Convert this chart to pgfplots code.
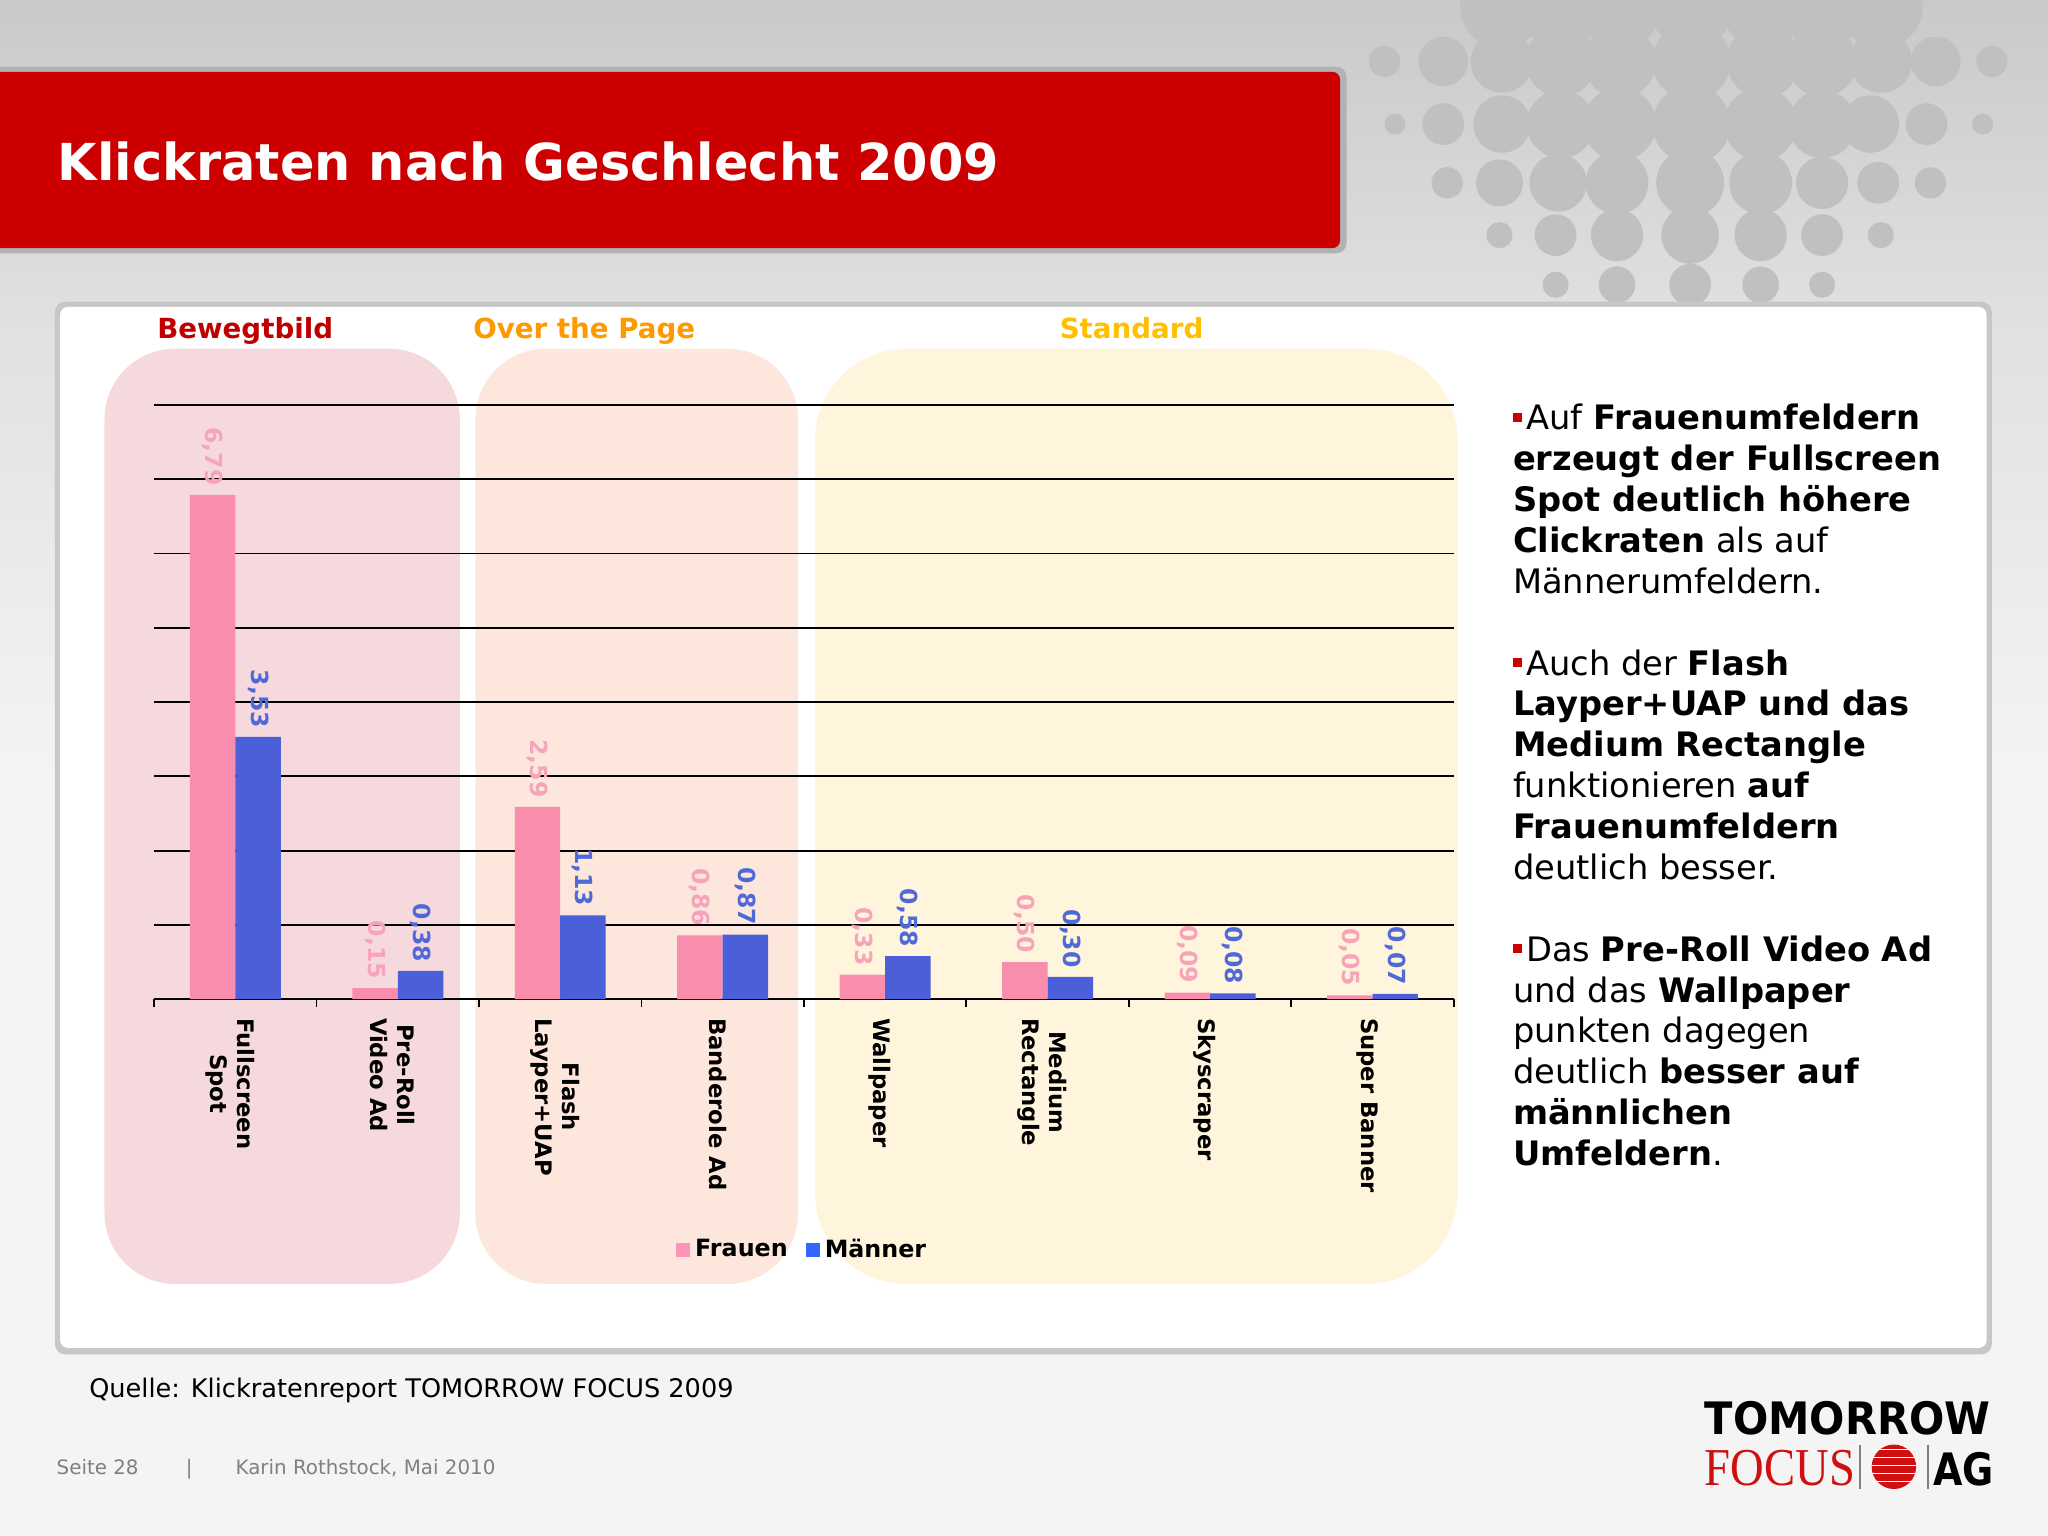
\documentclass[border=0pt]{standalone}
\usepackage{fontspec}
\setmainfont{DejaVu Sans}
\newfontfamily\seriffont{Liberation Serif}
\usepackage{pgfplots}
\usepackage{pgfplotstable}
\pgfplotsset{compat=1.18}
\definecolor{bgtop}{HTML}{C9C9C9}
\definecolor{bgmid}{HTML}{E0E0E0}
\definecolor{bglow}{HTML}{F4F4F4}
\definecolor{dotc}{HTML}{C0C0C0}
\definecolor{bannerred}{HTML}{CC0000}
\definecolor{bewbg}{HTML}{F6D9DD}
\definecolor{otpbg}{HTML}{FDE6DC}
\definecolor{stdbg}{HTML}{FFF5DC}
\definecolor{bewred}{HTML}{C00000}
\definecolor{otpor}{HTML}{FF9900}
\definecolor{stdyel}{HTML}{FFC000}
\definecolor{pinkbar}{HTML}{F98DAE}
\definecolor{bluebar}{HTML}{4A5FD8}
\definecolor{pinklab}{HTML}{F7A3BA}
\definecolor{bluelab}{HTML}{4F69D9}
\definecolor{pinkleg}{HTML}{FF94B8}
\definecolor{blueleg}{HTML}{3366FF}
\definecolor{logored}{HTML}{D01010}
\definecolor{footgray}{HTML}{808080}
\newcommand{\bul}{{\color{bannerred}\raisebox{3pt}{\rule{3.5pt}{3.5pt}}}\hspace{1.5pt}}

\pgfplotstableread{
x f m
0 6.79 3.53
1 0.15 0.38
2 2.59 1.13
3 0.86 0.87
4 0.33 0.58
5 0.50 0.30
6 0.09 0.08
7 0.05 0.07
}\klickdata

\begin{document}
\begin{tikzpicture}
\begin{scope}[x=0.5pt,y=-0.5pt]
\useasboundingbox (0,0) rectangle (1568,1176);
\shade[top color=bgtop, bottom color=bgmid] (0,0) rectangle (1568,240);
\shade[top color=bgmid, bottom color=bglow] (0,240) rectangle (1568,600);
\fill[bglow] (0,600) rectangle (1568,1176);
% decorative dots
\foreach \x in {1150,1195,1240,1295,1350,1395,1440}{\fill[dotc] (\x,5) circle[radius=16pt];}
\foreach \x/\y/\r in {1060/47/12,1105/47/19,1150/47/24,1195/47/27,1240/47/28,1295/47/30,1350/47/28,1395/47/27,1440/47/24,1482/47/19,1525/47/12,
1068/95/8,1105/95/16,1150/95/22,1195/95/26,1240/95/28,1295/95/30,1348/95/28,1395/95/26,1432/95/22,1475/95/16,1518/95/8,
1108/140/12,1148/140/18,1193/140/22,1238/140/24,1294/140/26,1348/140/24,1395/140/20,1438/140/16,1478/140/12,
1148/180/10,1191/180/16,1238/180/20,1294/180/22,1348/180/20,1395/180/16,1440/180/10,
1191/218/10,1238/218/14,1294/218/16,1348/218/14,1395/218/10}
  {\fill[dotc] (\x,\y) circle[radius={\r*0.5pt}];}
% red banner
\fill[black!30, rounded corners=4pt] (-10,51) rectangle (1031,194);
\fill[bannerred, rounded corners=3pt] (-10,55) rectangle (1026,190);
\node[anchor=base west, inner sep=0pt, text=white, font=\bfseries\fontsize{19.5}{19.5}\selectfont] at (44,138) {Klickraten nach Geschlecht 2009};
% white panel
\fill[black!22, rounded corners=4pt] (42,231) rectangle (1525,1037);
\fill[white, rounded corners=3pt] (46,235) rectangle (1521,1032);
% group backgrounds
\fill[bewbg, rounded corners=27pt] (80,267) rectangle (352,983);
\fill[otpbg, rounded corners=27pt] (364,267) rectangle (611,983);
\fill[stdbg, rounded corners=35pt] (624,267) rectangle (1116,983);
\node[anchor=base west, inner sep=0pt, text=bewred, font=\bfseries\fontsize{10.6}{10.6}\selectfont] at (120,259) {Bewegtbild};
\node[anchor=base west, inner sep=0pt, text=otpor, font=\bfseries\fontsize{10.6}{10.6}\selectfont] at (362,259) {Over the Page};
\node[anchor=base west, inner sep=0pt, text=stdyel, font=\bfseries\fontsize{10.6}{10.6}\selectfont] at (811,259) {Standard};
% right text
\node[anchor=north west, inner sep=0pt, align=left, font=\fontsize{12.9}{15.65}\selectfont] at (1158,309) {%
\bul Auf \textbf{Frauenumfeldern}\\
\textbf{erzeugt der Fullscreen}\\
\textbf{Spot deutlich höhere}\\
\textbf{Clickraten} als auf\\
Männerumfeldern.\\[15.65pt]
\bul Auch der \textbf{Flash}\\
\textbf{Layper+UAP und das}\\
\textbf{Medium Rectangle}\\
funktionieren \textbf{auf}\\
\textbf{Frauenumfeldern}\\
deutlich besser.\\[15.65pt]
\bul Das \textbf{Pre-Roll Video Ad}\\
und das \textbf{Wallpaper}\\
punkten dagegen\\
deutlich \textbf{besser auf}\\
\textbf{männlichen}\\
\textbf{Umfeldern}.};
% source and footer
\node[anchor=base west, inner sep=0pt, font=\fontsize{9.8}{9.8}\selectfont] at (68,1070) {Quelle: Klickratenreport TOMORROW FOCUS 2009};
\node[anchor=base west, inner sep=0pt, text=footgray, font=\fontsize{7.6}{7.6}\selectfont] at (43,1129) {Seite 28};
\node[anchor=base west, inner sep=0pt, text=footgray, font=\fontsize{7.6}{7.6}\selectfont] at (142,1129) {|};
\node[anchor=base west, inner sep=0pt, text=footgray, font=\fontsize{7.6}{7.6}\selectfont] at (180,1129) {Karin Rothstock, Mai 2010};
% logo
\node[anchor=base west, inner sep=0pt, xscale=0.93, font=\bfseries\fontsize{17.1}{17.1}\selectfont] at (1305,1098) {TOMORROW};
\node[anchor=base west, inner sep=0pt, xscale=0.875, text=logored, font=\seriffont\fontsize{20.4}{20.4}\selectfont] at (1305,1137) {FOCUS};
\draw[black!50, line width=0.6pt] (1424,1106) -- (1424,1140);
\draw[black!50, line width=0.6pt] (1476,1106) -- (1476,1140);
\fill[logored] (1450,1123) circle[radius=8.5pt];
\foreach \yy in {1110,1116,1122,1128,1134}{\draw[white, line width=0.4pt] (1433,\yy) -- (1467,\yy);}
\node[anchor=base west, inner sep=0pt, xscale=0.85, font=\bfseries\fontsize{17.1}{17.1}\selectfont] at (1480,1137) {AG};
\end{scope}

\begin{axis}[
  at={(59pt,-382.5pt)}, anchor=south west,
  scale only axis, width=497.5pt, height=227.5pt,
  xmin=-0.5, xmax=7.5, ymin=0, ymax=8,
  clip=false,
  axis lines*=left,
  y axis line style={draw=none},
  x axis line style={black, line width=0.7pt},
  ytick={0,1,...,8}, yticklabels={}, ytick style={draw=none},
  ymajorgrids, grid style={black, line width=0.7pt},
  xtick={0,...,7},
  xticklabels={{Fullscreen\\Spot},{Pre-Roll\\Video Ad},{Flash\\Layper+UAP},{Banderole Ad},{Wallpaper},{Medium\\Rectangle},{Skyscraper},{Super Banner}},
  major tick length=0pt,
  minor xtick={-0.5,0.5,...,7.5},
  minor tick length=3pt,
  tick align=outside,
  every minor tick/.append style={black, line width=0.7pt},
  xticklabel shift=7pt,
  xticklabel style={rotate=-90, anchor=west, align=center, inner sep=0pt, yshift=-2pt, font=\bfseries\fontsize{8.7}{10.5}\selectfont},
  ybar, bar width=0.28,
  /pgf/number format/fixed,
  /pgf/number format/fixed zerofill,
  /pgf/number format/precision=2,
  /pgf/number format/use comma,
  /pgf/number format/assume math mode=true,
  legend image code/.code={\fill[#1] (0pt,-2.6pt) rectangle (5.2pt,2.6pt);},
  legend columns=2,
  legend style={at={(axis description cs:0.5,-0.422)}, anchor=center, draw=none, fill=none,
    font=\bfseries\fontsize{9.1}{9.1}\selectfont,
    /tikz/every even column/.append style={column sep=5pt}},
]
\addplot[fill=pinkbar, draw=none, bar shift=-0.14, forget plot,
  nodes near coords,
  every node near coord/.append style={rotate=-90, anchor=east, text=pinklab, font=\bfseries\fontsize{9}{9}\selectfont}]
  table[x=x,y=f]{\klickdata};
\addplot[fill=bluebar, draw=none, bar shift=0.14, forget plot,
  nodes near coords,
  every node near coord/.append style={rotate=-90, anchor=east, text=bluelab, font=\bfseries\fontsize{9}{9}\selectfont}]
  table[x=x,y=m]{\klickdata};
\addlegendimage{fill=pinkleg, draw=none}
\addlegendentry{Frauen}
\addlegendimage{fill=blueleg, draw=none}
\addlegendentry{Männer}
\end{axis}
\end{tikzpicture}
\end{document}
